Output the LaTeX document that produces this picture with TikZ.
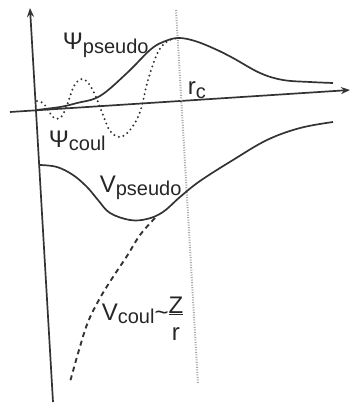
\documentclass[tikz,border=0pt]{standalone}
\usepackage{fontspec}
\setmainfont{Liberation Sans}
\usetikzlibrary{arrows.meta}
\newcommand{\lo}[1]{\raisebox{-0.15em}{\fontsize{20}{22}\selectfont #1}}
\begin{document}
\begin{tikzpicture}[
        x=1pt, y=-1pt,
        line width=1.7pt, draw=black!80,
        axis/.style={-{Stealth[length=9pt,width=7pt]}},
        label/.style={anchor=base west, inner sep=0pt, text=black!85, font=\fontsize{24}{27}\selectfont},
        rcline/.style={black!35, line width=2pt, dash pattern=on 1pt off 1.5pt},
        coul/.style={line width=2.2pt, line cap=round, dash pattern=on 0pt off 4.8pt},
        vcoul/.style={line width=1.9pt, dash pattern=on 5pt off 4pt}
    ]
    \useasboundingbox (0,0) rectangle (351,406);
    % axes
    \coordinate (o) at (36,110);
    \coordinate (ybot) at (53,402);
    \coordinate (ytop) at (30,8);
    \coordinate (xleft) at (10,112);
    \coordinate (xright) at (350,90);
    \draw[axis] (ybot) -- (ytop);
    \draw[axis] (xleft) -- (xright);
    % cut-off radius
    \coordinate (rctop) at (176,10);
    \coordinate (rcbot) at (198,384);
    \draw[rcline] (rctop) -- (rcbot);
    % wave functions
    \draw plot[smooth, tension=0.6] coordinates {
        (36,110) (60,107) (77,103) (100,96) (127,73) (150,50) (163,42) (178,38)
        (195,41) (215,49) (233,58) (260,73) (283,80) (310,82) (333,83)};
    \draw[coul] plot[smooth, tension=0.6] coordinates {
        (37,101) (44,104) (53,117) (60,118) (66,108) (74,86) (82,79) (89,84)
        (96,97) (103,115) (110,131) (120,137) (130,130) (140,112) (148,80)
        (158,52) (168,41) (178,38)};
    % potentials
    \draw plot[smooth, tension=0.6] coordinates {
        (40,165) (57,167) (73,175) (87,187) (98,200) (110,213) (130,220) (147,219)
        (163,212) (180,197) (200,181) (233,160) (267,140) (300,128) (333,122)};
    \draw[vcoul] plot[smooth, tension=0.6] coordinates {
        (155,218) (140,235) (127,256) (113,277) (100,298) (88,322) (79,350) (70,382)};
    % labels
    \node[label] (psipseudo) at (62,50) {Ψ\lo{pseudo}};
    \node[label] (psicoul) at (48,147) {Ψ\lo{coul}};
    \node[label] (rc) at (187,95) {r\lo{c}};
    \node[label] (vpseudo) at (99,192) {V\lo{pseudo}};
    \node[label] (vcoullabel) at (101,320) {V\lo{coul}\textasciitilde\raisebox{-20pt}{\begin{tabular}[b]{@{}c@{}}\underline{Z}\\r\end{tabular}}};
\end{tikzpicture}
\end{document}
